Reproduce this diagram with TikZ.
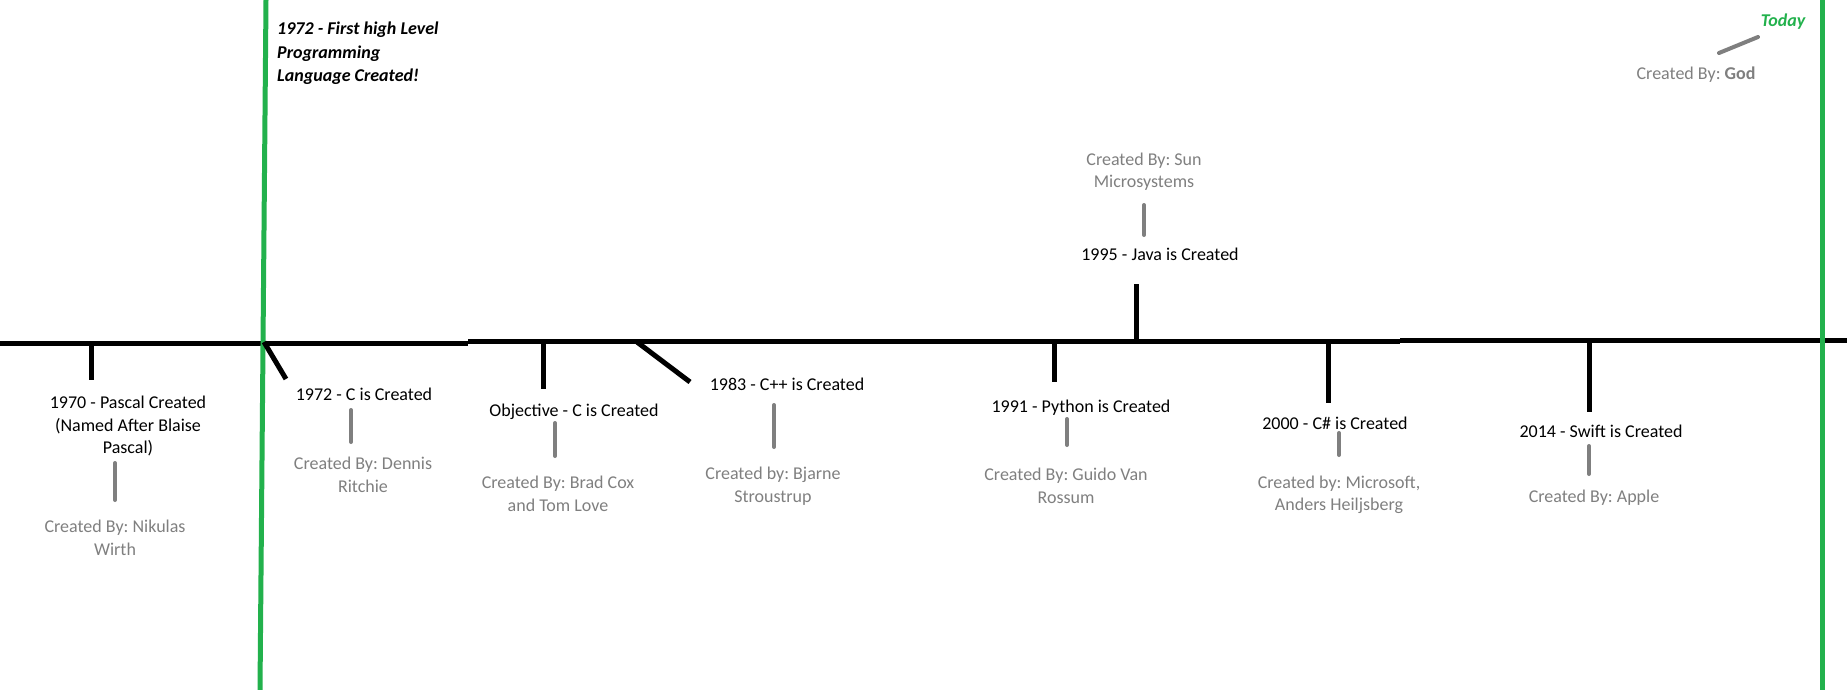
\documentclass[tikz,border=0pt]{standalone}
\usepackage{fontspec}
\setmainfont{Carlito}
\definecolor{paintgreen}{RGB}{34,177,76}
\definecolor{paintgrey}{RGB}{127,127,127}

\begin{document}
\frenchspacing
\begin{tikzpicture}[x=1pt,y=-1pt,
  evt/.style={align=center,inner sep=0pt,yshift=-2pt,font=\fontsize{18}{22.4}\selectfont},
  who/.style={evt,text=paintgrey},
  tick/.style={line width=5pt},
  gtick/.style={line width=4pt,paintgrey,line cap=round},
  era/.style={line width=5pt,paintgreen}]
\useasboundingbox (0,0) rectangle (1847,690);

% Timeline and green era lines
\coordinate (tl0) at (0,343);
\coordinate (tl1) at (468,343);
\coordinate (tl2) at (468,341);
\coordinate (tl3) at (1400,341);
\coordinate (tl4) at (1400,340);
\coordinate (tl5) at (1847,340);
\draw[tick] (tl0) -- (tl1);
\draw[tick] (tl2) -- (tl3);
\draw[tick] (tl4) -- (tl5);
\coordinate (eraA) at (266,0);
\coordinate (eraB) at (260,690);
\coordinate (nowA) at (1822,0);
\coordinate (nowB) at (1822,690);
\draw[era] (eraA) -- (eraB);
\draw[era] (nowA) -- (nowB);

\node[anchor=north west,align=left,inner sep=0pt,
  font=\fontsize{18}{23.5}\selectfont\bfseries\itshape] (first) at (277,22)
  {1972 - First high Level\\Programming\\Language Created!};

% 1970 Pascal
\coordinate (pasT) at (91,342);
\coordinate (pasE) at (91,380);
\draw[tick] (pasT) -- (pasE);
\node[evt] (pascal) at (128,424) {1970 - Pascal Created\\(Named After Blaise\\Pascal)};
\coordinate (pasG1) at (115,463);
\coordinate (pasG2) at (115,500);
\draw[gtick] (pasG1) -- (pasG2);
\node[who] (pascalby) at (115,536) {Created By: Nikulas\\Wirth};

% 1972 C
\coordinate (cT) at (264,342);
\coordinate (cE) at (286,379);
\draw[tick] (cT) -- (cE);
\node[evt] (clang) at (364,392) {1972 - C is Created};
\coordinate (cG1) at (351,410);
\coordinate (cG2) at (351,442);
\draw[gtick] (cG1) -- (cG2);
\node[who] (clangby) at (363,473) {Created By: Dennis\\Ritchie};

% Objective-C
\coordinate (objT) at (543,342);
\coordinate (objE) at (543,389);
\draw[tick] (objT) -- (objE);
\node[evt] (objc) at (574,410) {Objective - C is Created};
\coordinate (objG1) at (555,423);
\coordinate (objG2) at (555,456);
\draw[gtick] (objG1) -- (objG2);
\node[who] (objcby) at (558,492) {Created By: Brad Cox\\and Tom Love};

% 1983 C++
\coordinate (cppT) at (637,342);
\coordinate (cppE) at (690,382);
\draw[tick] (cppT) -- (cppE);
\node[evt] (cpp) at (787,382) {1983 - C++ is Created};
\coordinate (cppG1) at (774,405);
\coordinate (cppG2) at (774,447);
\draw[gtick] (cppG1) -- (cppG2);
\node[who] (cppby) at (773,484) {Created by: Bjarne\\Stroustrup};

% 1991 Python
\coordinate (pyT) at (1054,342);
\coordinate (pyE) at (1054,382);
\draw[tick] (pyT) -- (pyE);
\node[evt] (python) at (1081,406) {1991 - Python is Created};
\coordinate (pyG1) at (1067,419);
\coordinate (pyG2) at (1067,445);
\draw[gtick] (pyG1) -- (pyG2);
\node[who] (pythonby) at (1066,484) {Created By: Guido Van\\Rossum};

% 1995 Java (above the line)
\coordinate (javaT) at (1136,342);
\coordinate (javaE) at (1136,284);
\draw[tick] (javaT) -- (javaE);
\node[evt] (java) at (1160,252) {1995 - Java is Created};
\coordinate (javaG1) at (1144,205);
\coordinate (javaG2) at (1144,235);
\draw[gtick] (javaG1) -- (javaG2);
\node[who] (javaby) at (1144,170) {Created By: Sun\\Microsystems};

% 2000 C#
\coordinate (csT) at (1328,342);
\coordinate (csE) at (1328,403);
\draw[tick] (csT) -- (csE);
\node[evt] (csharp) at (1335,421) {2000 - C\# is Created};
\coordinate (csG1) at (1339,433);
\coordinate (csG2) at (1339,455);
\draw[gtick] (csG1) -- (csG2);
\node[who] (csharpby) at (1339,493) {Created by: Microsoft,\\Anders Heiljsberg};

% 2014 Swift
\coordinate (swT) at (1589,342);
\coordinate (swE) at (1589,412);
\draw[tick] (swT) -- (swE);
\node[evt] (swift) at (1601,429) {2014 - Swift is Created};
\coordinate (swG1) at (1589,446);
\coordinate (swG2) at (1589,474);
\draw[gtick] (swG1) -- (swG2);
\node[who] (swiftby) at (1594,496) {Created By: Apple};

% Today
\node[inner sep=0pt,text=paintgreen,font=\fontsize{18}{22.4}\selectfont\bfseries\itshape]
  (today) at (1783,22) {Today};
\coordinate (godA) at (1719,53);
\coordinate (godB) at (1758,37);
\draw[gtick] (godA) -- (godB);
\node[who] (god) at (1696,73) {Created By: \textbf{God}};
\end{tikzpicture}
\end{document}
